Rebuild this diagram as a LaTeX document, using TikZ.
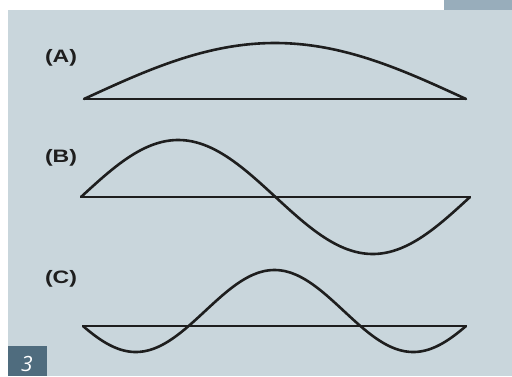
\documentclass[tikz,border=0pt]{standalone}
\usepackage{fontspec}
\setmainfont{Liberation Sans}
\newfontfamily\numfont{Open Sans}
\definecolor{panel}{HTML}{C9D6DC}
\definecolor{strip}{HTML}{98ADBB}
\definecolor{tagbox}{HTML}{4F6C7E}
\definecolor{ink}{HTML}{1E1E1E}
\tikzset{
  wave/.style={ink, line width=2.6pt, line cap=round, line join=round},
  axisline/.style={ink, line width=1.3pt},
  lbl/.style={font=\bfseries\fontsize{18}{18}\selectfont, text=ink, inner sep=0pt, xscale=1.28},
}
\begin{document}
\begin{tikzpicture}[x=1pt,y=-1pt]
\useasboundingbox (0,0) rectangle (512,376);
\fill[white] (0,0) rectangle (512,376);
\fill[panel] (8,10) rectangle (512,376);
\fill[strip] (444,0) rectangle (512,10);
\fill[tagbox] (8,346) rectangle (47,376);
\node[text=white, inner sep=0pt, anchor=base, font=\numfont\itshape\fontsize{21}{21}\selectfont] (num) at (27,371) {3};
% labels
\node[lbl] (la) at (61,58) {(A)};
\node[lbl] (lb) at (61,158) {(B)};
\node[lbl] (lc) at (61,279) {(C)};
% A
\coordinate (a1) at (84,99);
\coordinate (a2) at (466,99);
\draw[axisline] (a1) -- (a2);
\draw[wave] plot[domain=0:180, samples=90, variable=\t] ({84+(\t/180)*382},{99-56*sin(\t)});
% B
\coordinate (b1) at (81,197);
\coordinate (b2) at (470,197);
\draw[axisline] (b1) -- (b2);
\draw[wave] plot[domain=0:360, samples=140, variable=\t] ({81+(\t/360)*389},{197-57*sin(\t)});
% C
\coordinate (c1) at (83,326);
\coordinate (c2) at (466,326);
\draw[axisline] (c1) -- (c2);
\draw[wave] plot[domain=-248.5:248.5, samples=160, variable=\t] ({274.5+(\t/497)*383},{311-41*cos(\t)});
\end{tikzpicture}
\end{document}
